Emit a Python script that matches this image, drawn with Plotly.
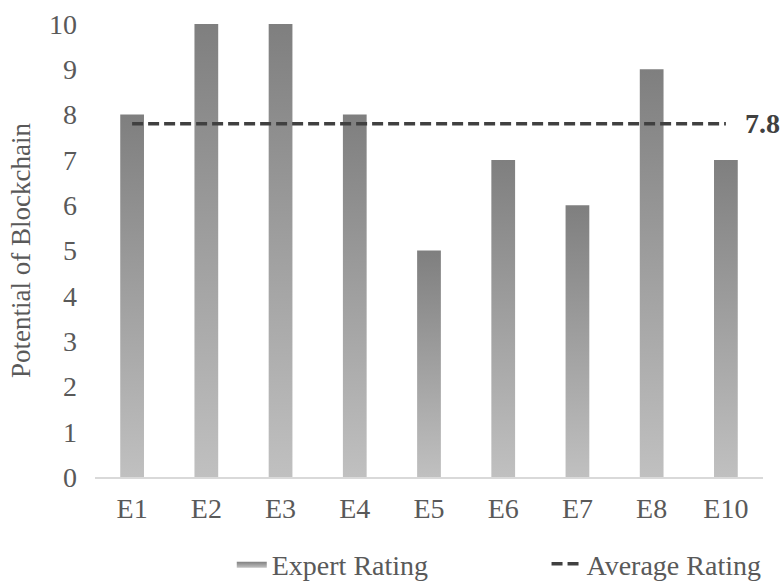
import plotly.graph_objects as go

categories = ["E1", "E2", "E3", "E4", "E5", "E6", "E7", "E8", "E10"]
ratings = [8, 10, 10, 8, 5, 7, 6, 9, 7]
average = 7.8
y_ticks = list(range(0, 11))

BAR_HALF = 0.16
FONT = "Liberation Serif, Times New Roman, serif"
GRAD = [[0, "#c0c0c0"], [1, "#7f7f7f"]]
TEXT = "#595959"

fig = go.Figure()

# each bar is a filled rectangle so it can carry a vertical gradient
for i, (cat, val) in enumerate(zip(categories, ratings)):
    fig.add_trace(go.Scatter(
        x=[i - BAR_HALF, i + BAR_HALF, i + BAR_HALF, i - BAR_HALF, i - BAR_HALF],
        y=[0, 0, val, val, 0],
        mode="lines",
        line=dict(width=0),
        fill="toself",
        fillgradient=dict(type="vertical", colorscale=GRAD),
        name="Expert Rating",
        legend="legend",
        legendgroup="bars",
        showlegend=(i == 0),
        hoverinfo="skip",
    ))

xs = list(range(len(categories)))
fig.add_trace(go.Scatter(
    x=xs,
    y=[average] * len(categories),
    mode="lines",
    line=dict(color="#404040", width=3.5, dash="11px,5px"),
    name="Average Rating",
    legend="legend2",
))

fig.add_annotation(
    x=xs[-1], y=average, text="<b>%.1f</b>" % average,
    showarrow=False, xanchor="left", xshift=17,
    font=dict(family=FONT, size=28, color="#404040"),
)

legend_common = dict(
    orientation="h", xref="container", yref="container",
    xanchor="left", y=0.036, yanchor="middle",
    font=dict(family=FONT, size=28, color=TEXT),
    bgcolor="rgba(0,0,0,0)",
)

fig.update_layout(
    width=783, height=585,
    margin=dict(l=95, r=20, t=24, b=108),
    paper_bgcolor="white", plot_bgcolor="white",
    font=dict(family=FONT, size=28, color=TEXT),
    showlegend=True,
    legend=dict(x=0.296, **legend_common),
    legend2=dict(x=0.698, **legend_common),
    xaxis=dict(
        range=[-0.5, len(categories) - 0.5],
        tickvals=xs, ticktext=categories,
        showgrid=False, zeroline=False, automargin=False,
        showline=True, linecolor="#d9d9d9", linewidth=1.5,
        ticks="", ticklabelstandoff=6,
        tickfont=dict(size=28, color=TEXT),
    ),
    yaxis=dict(
        range=[0, 10], tickvals=y_ticks, automargin=False,
        showgrid=False, zeroline=False, showline=False,
        ticks="", ticklabelstandoff=17,
        tickfont=dict(size=28, color=TEXT),
        title=dict(text="Potential of Blockchain", standoff=10,
                   font=dict(size=27, color=TEXT)),
    ),
)

fig.write_html("out.html")
